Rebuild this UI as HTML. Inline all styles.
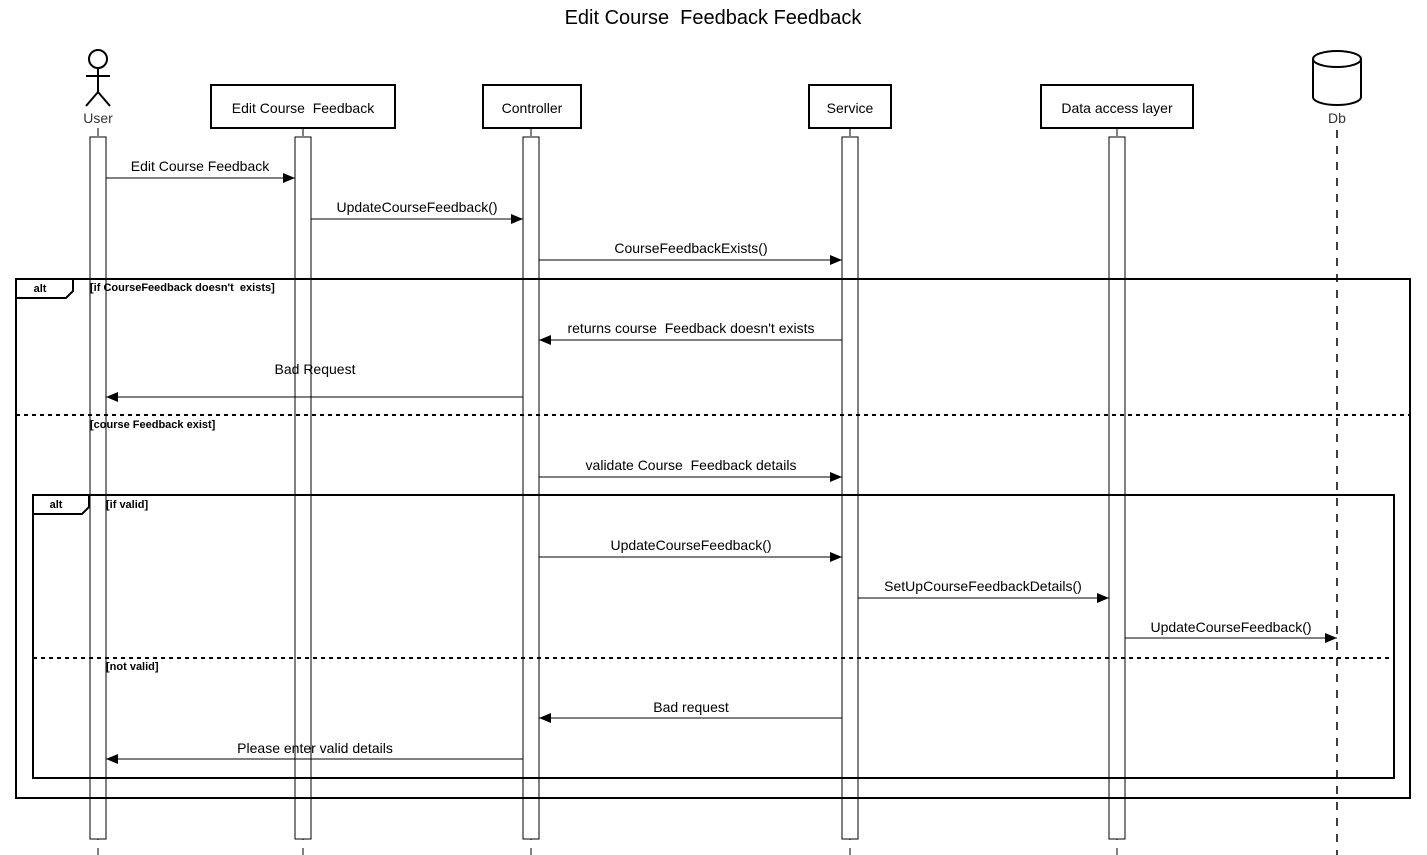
<!DOCTYPE html>
<html><head><meta charset="utf-8"><style>
html,body{margin:0;padding:0;background:#fff;}
svg{display:block;font-family:"Liberation Sans",Arial,sans-serif;}
text{white-space:pre;}
</style></head><body>
<svg width="1427" height="855" viewBox="0 0 1427 855" xmlns="http://www.w3.org/2000/svg" xml:space="preserve">
<defs>
<marker id="a" markerWidth="12" markerHeight="10" refX="12" refY="5" orient="auto" markerUnits="userSpaceOnUse">
<path d="M0,0 L12,5 L0,10 Z" fill="#000"/></marker>
</defs>
<text x="713" y="24" font-size="20" text-anchor="middle">Edit Course  Feedback Feedback</text>

<g stroke="#000" stroke-width="1" stroke-dasharray="8,8" fill="none">
<line x1="98" y1="128" x2="98" y2="855"/>
<line x1="303" y1="128" x2="303" y2="855"/>
<line x1="531" y1="128" x2="531" y2="855"/>
<line x1="850" y1="128" x2="850" y2="855"/>
<line x1="1117" y1="128" x2="1117" y2="855"/>
<line x1="1337" y1="130" x2="1337" y2="855" stroke-width="1.5"/>
</g>

<g stroke="#000" stroke-width="2" fill="none">
<circle cx="98" cy="59" r="9"/>
<line x1="98" y1="68" x2="98" y2="92"/>
<line x1="86" y1="76" x2="110" y2="76"/>
<line x1="98" y1="92" x2="86" y2="106"/>
<line x1="98" y1="92" x2="110" y2="106"/>
</g>
<text x="98" y="123" font-size="14" text-anchor="middle" fill="#333">User</text>

<g stroke="#000" stroke-width="2" fill="#fff">
<rect x="211" y="85" width="184" height="43"/>
<rect x="483" y="85" width="98" height="43"/>
<rect x="809" y="85" width="82" height="43"/>
<rect x="1041" y="85" width="152" height="43"/>
</g>
<g font-size="14" text-anchor="middle">
<text x="303" y="113">Edit Course  Feedback</text>
<text x="532" y="113">Controller</text>
<text x="850" y="113">Service</text>
<text x="1117" y="113">Data access layer</text>
</g>

<g stroke="#000" stroke-width="2" fill="#fff">
<path d="M1313,59 L1313,97 A24,8 0 0 0 1361,97 L1361,59"/>
<ellipse cx="1337" cy="59" rx="24" ry="8"/>
</g>
<text x="1337" y="123" font-size="14" text-anchor="middle" fill="#333">Db</text>

<g stroke="#000" stroke-width="1" fill="#fff">
<rect x="90" y="137" width="16" height="702"/>
<rect x="295" y="137" width="16" height="702"/>
<rect x="523" y="137" width="16" height="702"/>
<rect x="842" y="137" width="16" height="702"/>
<rect x="1109" y="137" width="16" height="702"/>
</g>

<g stroke="#000" fill="none">
<rect x="16" y="279" width="1394" height="519" stroke-width="2"/>
<line x1="16" y1="415" x2="1410" y2="415" stroke-width="2" stroke-dasharray="4,4"/>
<path d="M16,298 L66,298 L73,291 L73,279" stroke-width="2"/>
<rect x="33" y="495" width="1361" height="283" stroke-width="2"/>
<line x1="33" y1="658" x2="1394" y2="658" stroke-width="2" stroke-dasharray="4,4"/>
<path d="M33,514 L82,514 L89,507 L89,495" stroke-width="2"/>
</g>
<g font-size="11" font-weight="bold">
<text x="40" y="292" text-anchor="middle">alt</text>
<text x="90" y="291">[if CourseFeedback doesn't  exists]</text>
<text x="90" y="428">[course Feedback exist]</text>
<text x="56" y="508" text-anchor="middle">alt</text>
<text x="106" y="508">[if valid]</text>
<text x="106" y="670">[not valid]</text>
</g>

<g stroke="#000" stroke-width="1" marker-end="url(#a)">
<line x1="106" y1="178" x2="295" y2="178"/>
<line x1="311" y1="219" x2="523" y2="219"/>
<line x1="539" y1="260" x2="842" y2="260"/>
<line x1="842" y1="340" x2="539" y2="340"/>
<line x1="523" y1="397" x2="106" y2="397"/>
<line x1="539" y1="477" x2="842" y2="477"/>
<line x1="539" y1="557" x2="842" y2="557"/>
<line x1="858" y1="598" x2="1109" y2="598"/>
<line x1="1125" y1="638" x2="1337" y2="638"/>
<line x1="842" y1="718" x2="539" y2="718"/>
<line x1="523" y1="759" x2="106" y2="759"/>
</g>
<g font-size="14" text-anchor="middle">
<text x="200" y="171">Edit Course Feedback</text>
<text x="417" y="212">UpdateCourseFeedback()</text>
<text x="691" y="253">CourseFeedbackExists()</text>
<text x="691" y="333">returns course  Feedback doesn't exists</text>
<text x="315" y="374">Bad Request</text>
<text x="691" y="470">validate Course  Feedback details</text>
<text x="691" y="550">UpdateCourseFeedback()</text>
<text x="983" y="591">SetUpCourseFeedbackDetails()</text>
<text x="1231" y="632">UpdateCourseFeedback()</text>
<text x="691" y="712">Bad request</text>
<text x="315" y="753">Please enter valid details</text>
</g>
</svg>
</body></html>
